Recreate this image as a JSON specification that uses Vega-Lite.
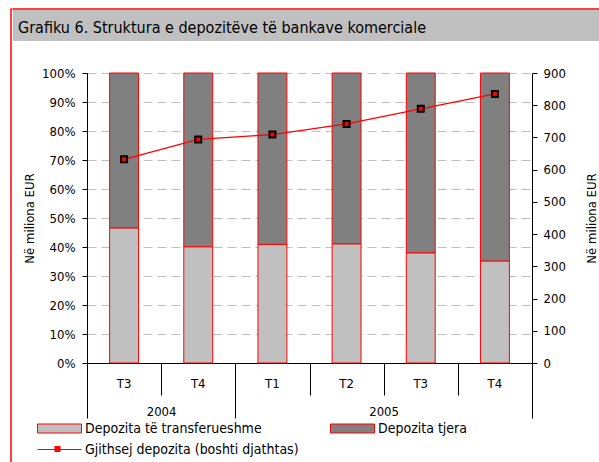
{
  "$schema": "https://vega.github.io/schema/vega-lite/v6.json",
  "background": "white",
  "padding": {"left": 10, "top": 8, "right": 0, "bottom": 0},
  "datasets": {
    "shares": [
      {"quarter": "2004 T3", "type": "Depozita të transferueshme", "share": 46.6},
      {"quarter": "2004 T3", "type": "Depozita tjera", "share": 53.4},
      {"quarter": "2004 T4", "type": "Depozita të transferueshme", "share": 40.1},
      {"quarter": "2004 T4", "type": "Depozita tjera", "share": 59.9},
      {"quarter": "2005 T1", "type": "Depozita të transferueshme", "share": 40.9},
      {"quarter": "2005 T1", "type": "Depozita tjera", "share": 59.1},
      {"quarter": "2005 T2", "type": "Depozita të transferueshme", "share": 41.1},
      {"quarter": "2005 T2", "type": "Depozita tjera", "share": 58.9},
      {"quarter": "2005 T3", "type": "Depozita të transferueshme", "share": 38.0},
      {"quarter": "2005 T3", "type": "Depozita tjera", "share": 62.0},
      {"quarter": "2005 T4", "type": "Depozita të transferueshme", "share": 35.2},
      {"quarter": "2005 T4", "type": "Depozita tjera", "share": 64.8}
    ],
    "totals": [
      {"quarter": "2004 T3", "total": 632},
      {"quarter": "2004 T4", "total": 694},
      {"quarter": "2005 T1", "total": 709},
      {"quarter": "2005 T2", "total": 742},
      {"quarter": "2005 T3", "total": 789},
      {"quarter": "2005 T4", "total": 835}
    ]
  },
  "spacing": 0,
  "align": "none",
  "hconcat": [
    {
      "width": 0.001,
      "height": 470,
      "data": {"values": []},
      "mark": "rect",
      "view": {"stroke": "red", "strokeWidth": 1.5}
    },
    {
      "spacing": 26,
      "vconcat": [
        {
          "spacing": 0,
          "vconcat": [
            {
              "width": 600,
              "height": 0.001,
              "data": {"values": []},
              "mark": "rect",
              "view": {"stroke": "red", "strokeWidth": 1.5}
            },
            {
              "width": 600,
              "height": 31,
              "data": {"values": []},
              "mark": "rect",
              "view": {"fill": "#C0C0C0", "stroke": null},
              "title": {
                "text": "Grafiku 6. Struktura e depozitëve të bankave komerciale",
                "anchor": "start",
                "frame": "group",
                "offset": -39,
                "dx": 5,
                "baseline": "alphabetic",
                "fontSize": 16,
                "fontWeight": "normal",
                "color": "black"
              }
            }
          ]
        },
        {
          "spacing": 0,
          "hconcat": [
            {
              "width": 0.001,
              "height": 0.001,
              "data": {"values": []},
              "mark": "rect"
            },
            {
              "width": 445,
              "height": 290,
              "layer": [
                {
                  "data": {"name": "shares"},
                  "mark": {"type": "bar", "stroke": "red", "strokeWidth": 1, "width": {"band": 0.39}},
                  "encoding": {
                    "x": {
                      "field": "quarter",
                      "type": "nominal",
                      "scale": {"paddingInner": 0, "paddingOuter": 0},
                      "axis": {
                        "orient": "bottom",
                        "title": null,
                        "labelAngle": 0,
                        "tickBand": "extent",
                        "tickSize": {"condition": {"test": "datum.extra || datum.value == '2004 T4' || datum.value == '2005 T4'", "value": 55}, "value": 32},
                        "labelExpr": "datum.value == '2004 T3' ? '2004' : datum.value == '2005 T2' ? '2005' : ''",
                        "labelOffset": 37,
                        "labelPadding": 10,
                        "grid": false
                      }
                    },
                    "y": {
                      "field": "share",
                      "type": "quantitative",
                      "stack": "zero",
                      "scale": {"domain": [0, 100], "nice": false},
                      "axis": {
                        "orient": "left",
                        "values": [0, 10, 20, 30, 40, 50, 60, 70, 80, 90, 100],
                        "labelExpr": "datum.value + '%'",
                        "grid": true,
                        "gridColor": "#C0C0C0",
                        "gridDash": [9, 5],
                        "tickSize": 5,
                        "labelPadding": 7,
                        "title": ["", "Në miliona EUR"],
                        "titleLineHeight": 9,
                        "titlePadding": 5
                      }
                    },
                    "fill": {
                      "field": "type",
                      "type": "nominal",
                      "scale": {"domain": ["Depozita të transferueshme", "Depozita tjera"], "range": ["#C0C0C0", "#808080"]},
                      "legend": {
                        "orient": "none",
                        "legendX": 41.5,
                        "legendY": 412.5,
                        "direction": "horizontal",
                        "title": null,
                        "symbolType": "M-4.89,-1H4.89V1H-4.89Z",
                        "symbolSize": 81,
                        "symbolStrokeColor": "red",
                        "symbolStrokeWidth": 1,
                        "symbolOpacity": 1,
                        "labelOffset": 18.5,
                        "labelLimit": 400,
                        "labelFontSize": 14,
                        "columnPadding": 65,
                        "padding": 0
                      }
                    },
                    "order": {"field": "type", "sort": "descending"}
                  }
                },
                {
                  "data": {"name": "totals"},
                  "encoding": {
                    "x": {
                      "field": "quarter",
                      "type": "nominal",
                      "axis": {
                        "orient": "bottom",
                        "title": null,
                        "labelAngle": 0,
                        "ticks": false,
                        "domain": false,
                        "labelExpr": "slice(datum.value, 5)",
                        "labelPadding": 14,
                        "grid": false
                      }
                    },
                    "y": {
                      "field": "total",
                      "type": "quantitative",
                      "scale": {"domain": [0, 900], "nice": false},
                      "axis": {
                        "orient": "right",
                        "values": [0, 100, 200, 300, 400, 500, 600, 700, 800, 900],
                        "tickSize": 5,
                        "labelPadding": 6,
                        "grid": false,
                        "title": "Në miliona EUR",
                        "titleAngle": 270,
                        "titleBaseline": "top",
                        "titlePadding": 20
                      }
                    }
                  },
                  "layer": [
                    {
                      "mark": {"type": "line", "strokeWidth": 1.3},
                      "encoding": {
                        "stroke": {
                          "datum": "Gjithsej depozita (boshti djathtas)",
                          "scale": {"range": ["red"]},
                          "legend": {
                            "orient": "none",
                            "legendX": 41.5,
                            "legendY": 433.5,
                            "title": null,
                            "symbolType": "M-4.89,0H4.89",
                            "symbolSize": 81,
                            "symbolStrokeColor": "red",
                            "symbolStrokeWidth": 1,
                            "labelOffset": 18.5,
                            "labelLimit": 400,
                            "labelFontSize": 14,
                            "padding": 0
                          }
                        }
                      }
                    },
                    {
                      "mark": {"type": "point", "shape": "square", "filled": true, "fill": "red", "stroke": "black", "strokeWidth": 2, "size": 36, "opacity": 1},
                      "encoding": {
                        "shape": {
                          "datum": " ",
                          "scale": {"range": ["square"]},
                          "legend": {
                            "orient": "none",
                            "legendX": 40,
                            "legendY": 433.5,
                            "title": null,
                            "symbolSize": 36,
                            "symbolFillColor": "red",
                            "symbolStrokeColor": "black",
                            "symbolStrokeWidth": 2,
                            "symbolOpacity": 1,
                            "padding": 0,
                            "zindex": 2
                          }
                        }
                      }
                    }
                  ]
                }
              ],
              "resolve": {"scale": {"y": "independent"}, "axis": {"x": "independent"}}
            }
          ]
        }
      ]
    }
  ],
  "config": {
    "font": "DejaVu Sans Condensed, DejaVu Sans, sans-serif",
    "view": {"stroke": null},
    "axis": {
      "labelFontSize": 13,
      "labelColor": "black",
      "titleFontSize": 13,
      "titleFontWeight": "normal",
      "titleColor": "black",
      "domainColor": "black",
      "tickColor": "black",
      "domainWidth": 1,
      "tickWidth": 1
    },
    "legend": {"labelFontSize": 13, "labelColor": "black"}
  }
}
